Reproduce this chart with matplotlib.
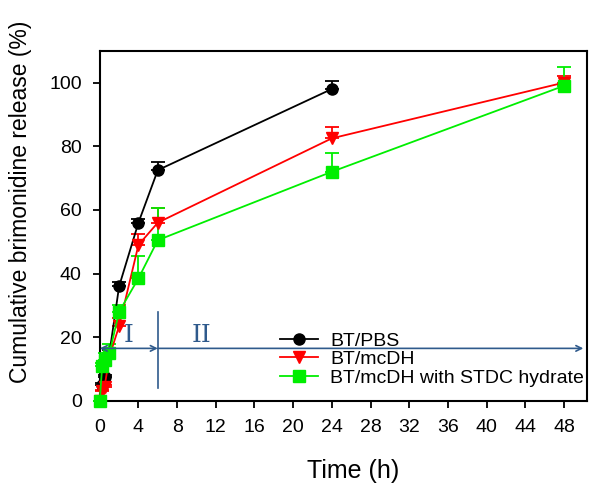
import matplotlib.pyplot as plt
import numpy as np

plt.rcParams['font.family'] = ['Liberation Sans', 'DejaVu Sans']

# release data (time in h, cumulative release in %)
t_pbs = [0, 0.25, 0.5, 1, 2, 4, 6, 24]
pbs = [0, 5, 7.5, 15, 36, 56, 72.5, 98]
pbs_err = [0, 0.5, 0.5, 1, 1.5, 1, 2.5, 2.5]

t_mcdh = [0, 0.25, 0.5, 1, 2, 4, 6, 24, 48]
mcdh = [0, 3, 4.5, 14, 23.5, 49, 56, 82.5, 100]
mcdh_err = [0, 0.5, 0.5, 1, 2.5, 3.5, 4.5, 3.5, 2]

t_stdc = [0, 0.25, 0.5, 1, 2, 4, 6, 24, 48]
stdc = [0, 11, 13, 15, 28, 38.5, 50.5, 72, 99]
stdc_err = [0, 1, 2, 3, 2, 7, 10, 6, 6]

xticks = np.arange(0, 49, 4)
yticks = np.arange(0, 101, 20)

fig = plt.figure(figsize=(6.01, 4.98), dpi=100)
ax = fig.add_axes([0.166, 0.195, 0.811, 0.703])

series = [
    (t_pbs, pbs, pbs_err, 'black', 'o', 'BT/PBS'),
    (t_mcdh, mcdh, mcdh_err, '#ff0000', 'v', 'BT/mcDH'),
    (t_stdc, stdc, stdc_err, '#00ee00', 's', 'BT/mcDH with STDC hydrate'),
]
handles = []
for t, y, e, c, m, lab in series:
    cont = ax.errorbar(t, y, yerr=[np.zeros(len(e)), e], color=c, marker=m, ms=8,
                       lw=1.3, elinewidth=1.3, capsize=5, capthick=1.3,
                       clip_on=False, zorder=3)
    handles.append(cont.lines[0])

# phase markers
arrow_c = '#2f5a8c'
ax.annotate('', xy=(0, 16.5), xytext=(6, 16.5),
            arrowprops=dict(arrowstyle='<->', color=arrow_c, lw=1.2,
                            shrinkA=0, shrinkB=0), annotation_clip=False,
            zorder=5)
ax.annotate('', xy=(50, 16.5), xytext=(6, 16.5),
            arrowprops=dict(arrowstyle='->', color=arrow_c, lw=1.2,
                            shrinkA=0, shrinkB=0), zorder=5)
ax.plot([6, 6], [4, 28], color=arrow_c, lw=1.2, zorder=5)
ax.text(3, 18.5, 'I', family='serif', fontsize=18, color=arrow_c, ha='center')
ax.text(10.5, 18.5, 'II', family='serif', fontsize=18, color=arrow_c, ha='center')

ax.set_xlim(0, 50.4)
ax.set_ylim(0, 110)
ax.set_xticks(xticks)
ax.set_yticks(yticks)
ax.tick_params(direction='out', length=5, width=1.3, labelsize=14, pad=8)
for s in ax.spines.values():
    s.set_linewidth(1.5)

ax.set_xlabel('Time (h)', fontsize=18)
ax.set_ylabel('Cumulative brimonidine release (%)', fontsize=16.5)
ax.xaxis.set_label_coords(0.52, -0.165)
ax.yaxis.set_label_coords(-0.14, 0.57)

ax.legend(handles, [s[5] for s in series], loc='upper left',
          bbox_to_anchor=(0.345, 0.23), frameon=False,
          fontsize=14, handlelength=2.0, handletextpad=0.6,
          labelspacing=0.05, borderpad=0.1)

fig.savefig('out.png', dpi=100)
